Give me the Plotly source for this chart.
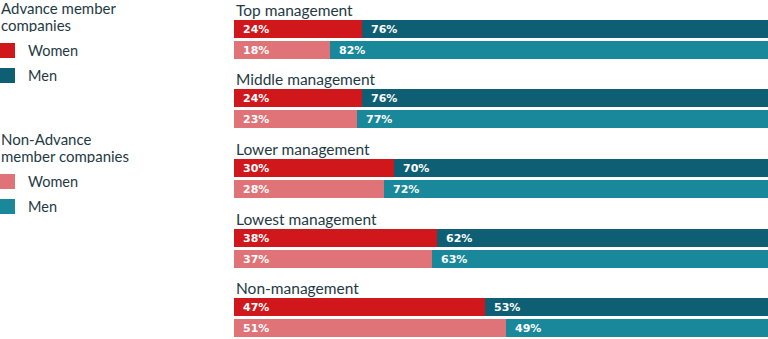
import plotly.graph_objects as go

categories = ["Top management", "Middle management", "Lower management",
              "Lowest management", "Non-management"]
adv_women = [24, 24, 30, 38, 47]
adv_men = [76, 76, 70, 62, 53]
non_women = [18, 23, 28, 37, 51]
non_men = [82, 77, 72, 63, 49]

W, H = 768, 339
FONT = "Lato"
LABEL_FONT = "DejaVu Sans"
TXT = "#1f3a44"
C_AW, C_AM = "#d0171c", "#0e5f73"
C_NW, C_NM = "#e07377", "#18889a"

# layout in pixel-like units on a reversed y axis
top0, step, gap, barh = 28.7, 69.6, 21.0, 18
y1 = [top0 + step * i for i in range(len(categories))]
y2 = [v + gap for v in y1]
ytitle = [v - 19 for v in y1]

fig = go.Figure()

def add(x, y, color):
    fig.add_trace(go.Bar(
        x=x, y=y, orientation="h", width=barh,
        marker=dict(color=color, line=dict(width=0)),
        texttemplate="\u00a0\u2009%{x}%", textposition="inside", insidetextanchor="start",
        textfont=dict(color="white", size=11, family=LABEL_FONT, weight="bold"),
        constraintext="none", hoverinfo="skip", showlegend=False,
    ))

add(adv_women, y1, C_AW)
add(adv_men, y1, C_AM)
add(non_women, y2, C_NW)
add(non_men, y2, C_NM)

x0 = 234 / W
for name, yy in zip(categories, ytitle):
    fig.add_annotation(x=x0, y=yy, xref="paper", yref="y", text=name,
                       showarrow=False, xanchor="left", yanchor="middle",
                       font=dict(size=15.5, color=TXT, family=FONT))

# legend (left)
legend_groups = [
    (["Advance member", "companies"], [7.5, 24.5], [("Women", C_AW, 50.5), ("Men", C_AM, 75.5)]),
    (["Non-Advance", "member companies"], [138, 155], [("Women", C_NW, 181.5), ("Men", C_NM, 206.5)]),
]
for lines, tys, items in legend_groups:
    for line, ty in zip(lines, tys):
        fig.add_annotation(x=0, y=1 - ty / H, xref="paper", yref="paper", text=line,
                           showarrow=False, xanchor="left", yanchor="middle", align="left",
                           borderpad=0, height=15,
                           font=dict(size=15, color=TXT, family=FONT))
    for lab, col, cy in items:
        fig.add_shape(type="rect", xref="paper", yref="paper",
                      x0=0, x1=15 / W, y0=1 - (cy - 7.5) / H, y1=1 - (cy + 7.5) / H,
                      fillcolor=col, line=dict(width=0))
        fig.add_annotation(x=26 / W, y=1 - cy / H, xref="paper", yref="paper", text=lab,
                           showarrow=False, xanchor="left", yanchor="middle",
                           font=dict(size=14.5, color=TXT, family=FONT))

fig.update_layout(
    width=W, height=H, margin=dict(l=0, r=0, t=0, b=0),
    barmode="stack", bargap=0,
    plot_bgcolor="white", paper_bgcolor="white",
    xaxis=dict(domain=[x0, 1], range=[0, 100], visible=False, fixedrange=True),
    yaxis=dict(range=[H, 0], visible=False, fixedrange=True),
    font=dict(family=FONT, color=TXT),
)

fig.write_html("out.html")
